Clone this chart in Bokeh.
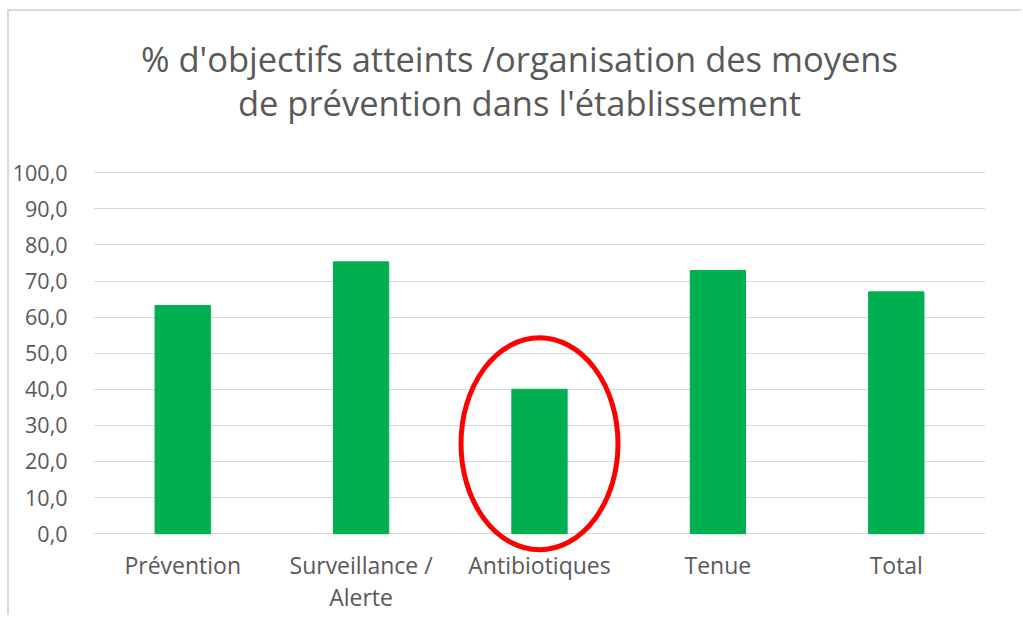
from bokeh.plotting import figure
from bokeh.models import ColumnDataSource, Range1d, FixedTicker, CustomJSTickFormatter, Label
from bokeh.embed import file_html
from bokeh.resources import INLINE

categories = ["Prévention", "Surveillance /\nAlerte", "Antibiotiques", "Tenue", "Total"]
values = [63.2, 75.3, 40.0, 72.9, 67.0]
y_ticks = [0, 10, 20, 30, 40, 50, 60, 70, 80, 90, 100]
highlight = "Antibiotiques"
highlight_center = 24.9
highlight_height = 58.7

title_lines = ["% d'objectifs atteints /organisation des moyens",
               "de prévention dans l'établissement"]

FONT = "Open Sans"
GRAY = "#595959"

# the frame extends above the 100 gridline so that the title can sit inside it
p = figure(x_range=categories, y_range=Range1d(-5.5, 141.9), frame_width=892, frame_height=532,
           output_backend="svg", toolbar_location=None,
           min_border_left=70, min_border_right=36, min_border_bottom=62, min_border_top=10)

for line, y in zip(title_lines, [495, 451]):
    p.add_layout(Label(x=426, y=y, x_units="screen", y_units="screen", text=line,
                       text_align="center", text_baseline="alphabetic",
                       text_font=FONT, text_font_size="34.5px", text_color=GRAY))

src = ColumnDataSource(dict(cat=categories, val=values))
p.vbar(x="cat", top="val", width=0.31, source=src, color="#00B050")

p.ellipse(x=[highlight], y=[highlight_center], width=0.88, height=highlight_height,
          fill_color=None, line_color="#FF0000", line_width=5)

p.yaxis.ticker = FixedTicker(ticks=y_ticks)
p.yaxis.formatter = CustomJSTickFormatter(code="return tick.toFixed(1).replace('.', ',');")
p.ygrid.ticker = FixedTicker(ticks=y_ticks)
p.ygrid.grid_line_color = "#D9D9D9"
p.ygrid.grid_line_width = 1
p.xgrid.grid_line_color = None

for ax in (p.xaxis, p.yaxis):
    ax.axis_line_color = None
    ax.major_tick_line_color = None
    ax.minor_tick_line_color = None
    ax.major_label_text_font = FONT
    ax.major_label_text_color = GRAY

p.xaxis.major_label_text_font_size = "23px"
p.xaxis.major_label_text_line_height = 1.0
p.yaxis.major_label_text_font_size = "21.5px"
p.yaxis.major_label_standoff = 20
p.xaxis.major_label_standoff = -11
p.outline_line_color = None
p.styles = {"border-left": "2px solid #D9D9D9", "border-top": "2px solid #D9D9D9",
            "margin-left": "7px", "margin-top": "9px"}

open("out.html", "w").write(file_html(p, INLINE))
